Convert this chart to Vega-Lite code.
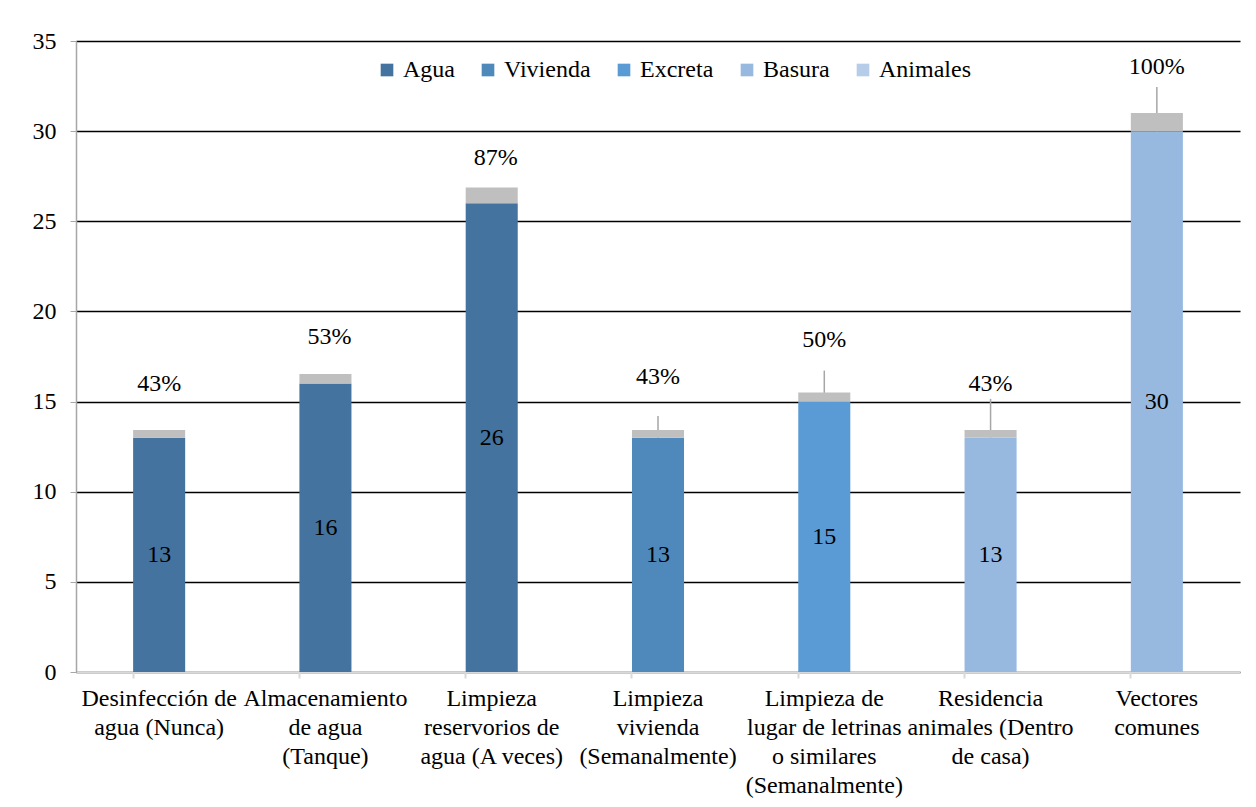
{
  "$schema": "https://vega.github.io/schema/vega-lite/v6.json",
  "width": 1164,
  "height": 631,
  "autosize": {"type": "none"},
  "padding": {"left": 76, "top": 41, "right": 16, "bottom": 135},
  "background": "white",
  "config": {
    "font": "Liberation Serif",
    "view": {"stroke": null},
    "axis": {"labelFont": "Liberation Serif", "labelColor": "#000000", "labelFontSize": 24, "title": null}
  },
  "data": {
    "values": [
      {"categoria": "Desinfección de|agua (Nunca)", "grupo": "Agua", "valor": 13},
      {"categoria": "Desinfección de|agua (Nunca)", "grupo": "Porcentaje", "valor": 0.43, "etiqueta": "43%"},
      {"categoria": "Almacenamiento|de agua|(Tanque)", "grupo": "Agua", "valor": 16},
      {"categoria": "Almacenamiento|de agua|(Tanque)", "grupo": "Porcentaje", "valor": 0.53, "etiqueta": "53%"},
      {"categoria": "Limpieza|reservorios de|agua (A veces)", "grupo": "Agua", "valor": 26},
      {"categoria": "Limpieza|reservorios de|agua (A veces)", "grupo": "Porcentaje", "valor": 0.87, "etiqueta": "87%"},
      {"categoria": "Limpieza|vivienda|(Semanalmente)", "grupo": "Vivienda", "valor": 13},
      {"categoria": "Limpieza|vivienda|(Semanalmente)", "grupo": "Porcentaje", "valor": 0.43, "etiqueta": "43%"},
      {"categoria": "Limpieza de|lugar de letrinas|o similares|(Semanalmente)", "grupo": "Excreta", "valor": 15},
      {"categoria": "Limpieza de|lugar de letrinas|o similares|(Semanalmente)", "grupo": "Porcentaje", "valor": 0.5, "etiqueta": "50%"},
      {"categoria": "Residencia|animales (Dentro|de casa)", "grupo": "Basura", "valor": 13},
      {"categoria": "Residencia|animales (Dentro|de casa)", "grupo": "Porcentaje", "valor": 0.43, "etiqueta": "43%"},
      {"categoria": "Vectores|comunes", "grupo": "Basura", "valor": 30},
      {"categoria": "Vectores|comunes", "grupo": "Porcentaje", "valor": 1.0, "etiqueta": "100%"}
    ]
  },
  "encoding": {
    "x": {
      "field": "categoria",
      "type": "nominal",
      "sort": null,
      "scale": {"paddingInner": 0.687, "paddingOuter": 0.3435},
      "axis": {
        "labelAngle": 0,
        "labelExpr": "split(datum.label, '|')",
        "labelLineHeight": 29,
        "labelPadding": 8,
        "labelBaseline": "top",
        "labelFont": "Liberation Serif",
        "labelFontSize": 24,
        "labelColor": "#000000",
        "bandPosition": 0,
        "tickSize": 6,
        "tickColor": "#D9D9D9",
        "tickWidth": 2,
        "domainColor": "#D9D9D9",
        "domainWidth": 2,
        "grid": false,
        "labelLimit": 0
      }
    }
  },
  "layer": [
    {
      "layer": [
        {
          "mark": {"type": "rule", "strokeWidth": 1.5, "yOffset": -14, "y2": 0, "y2Offset": 0, "color": "#A6A6A6"},
          "encoding": {
            "y": {"field": "valor", "type": "quantitative", "stack": "zero"},
            "detail": {"field": "grupo"},
            "order": {"field": "valor", "type": "quantitative", "sort": "descending"},
            "opacity": {"condition": {"test": "datum.grupo === 'Porcentaje' && datum.categoria === 'Limpieza|vivienda|(Semanalmente)'", "value": 1}, "value": 0}
          }
        },
        {
          "mark": {"type": "rule", "strokeWidth": 1.5, "yOffset": -22, "y2": 0, "y2Offset": 0, "color": "#A6A6A6"},
          "encoding": {
            "y": {"field": "valor", "type": "quantitative", "stack": "zero"},
            "detail": {"field": "grupo"},
            "order": {"field": "valor", "type": "quantitative", "sort": "descending"},
            "opacity": {"condition": {"test": "datum.grupo === 'Porcentaje' && datum.categoria === 'Limpieza de|lugar de letrinas|o similares|(Semanalmente)'", "value": 1}, "value": 0}
          }
        },
        {
          "mark": {"type": "rule", "strokeWidth": 1.5, "yOffset": -31, "y2": 0, "y2Offset": 0, "color": "#A6A6A6"},
          "encoding": {
            "y": {"field": "valor", "type": "quantitative", "stack": "zero"},
            "detail": {"field": "grupo"},
            "order": {"field": "valor", "type": "quantitative", "sort": "descending"},
            "opacity": {"condition": {"test": "datum.grupo === 'Porcentaje' && datum.categoria === 'Residencia|animales (Dentro|de casa)'", "value": 1}, "value": 0}
          }
        },
        {
          "mark": {"type": "rule", "strokeWidth": 1.5, "yOffset": -26, "y2": 0, "y2Offset": 0, "color": "#A6A6A6"},
          "encoding": {
            "y": {"field": "valor", "type": "quantitative", "stack": "zero"},
            "detail": {"field": "grupo"},
            "order": {"field": "valor", "type": "quantitative", "sort": "descending"},
            "opacity": {"condition": {"test": "datum.grupo === 'Porcentaje' && datum.categoria === 'Vectores|comunes'", "value": 1}, "value": 0}
          }
        },
        {
          "mark": {"type": "bar"},
          "encoding": {
            "y": {
              "field": "valor",
              "type": "quantitative",
              "stack": "zero",
              "scale": {"domain": [0, 35], "nice": false},
              "axis": {
                "values": [0, 5, 10, 15, 20, 25, 30, 35],
                "grid": true,
                "gridColor": "#000000",
                "gridWidth": 1.5,
                "domainColor": "#A6A6A6",
                "domainWidth": 1.5,
                "tickColor": "#A6A6A6",
                "tickSize": 6,
                "labelPadding": 14,
                "labelFont": "Liberation Serif",
                "labelFontSize": 24,
                "labelColor": "#000000"
              }
            },
            "color": {
              "field": "grupo",
              "type": "nominal",
              "scale": {
                "domain": ["Agua", "Vivienda", "Excreta", "Basura", "Animales", "Porcentaje"],
                "range": ["#44739F", "#4F89BC", "#5B9BD5", "#97B9E0", "#B6CDE9", "#BFBFBF"]
              },
              "legend": {
                "values": ["Agua", "Vivienda", "Excreta", "Basura", "Animales"],
                "title": null,
                "orient": "none",
                "legendX": 299,
                "legendY": 17,
                "direction": "horizontal",
                "symbolType": "square",
                "symbolSize": 160,
                "symbolStrokeWidth": 0,
                "labelFont": "Liberation Serif",
                "labelFontSize": 24,
                "labelColor": "#000000",
                "labelOffset": 4,
                "columnPadding": 21,
                "padding": 0
              }
            },
            "order": {"field": "valor", "type": "quantitative", "sort": "descending"}
          }
        },
        {
          "mark": {"type": "text", "dy": -30, "fontSize": 24, "font": "Liberation Serif", "color": "#000000", "baseline": "middle", "dx": 4},
          "encoding": {
            "y": {"field": "valor", "type": "quantitative", "stack": "zero"},
            "detail": {"field": "grupo"},
            "order": {"field": "valor", "type": "quantitative", "sort": "descending"},
            "text": {"field": "etiqueta"},
            "opacity": {"condition": {"test": "datum.grupo === 'Porcentaje' && datum.categoria === 'Limpieza|reservorios de|agua (A veces)'", "value": 1}, "value": 0}
          }
        },
        {
          "mark": {"type": "text", "dy": -37, "fontSize": 24, "font": "Liberation Serif", "color": "#000000", "baseline": "middle", "dx": 4},
          "encoding": {
            "y": {"field": "valor", "type": "quantitative", "stack": "zero"},
            "detail": {"field": "grupo"},
            "order": {"field": "valor", "type": "quantitative", "sort": "descending"},
            "text": {"field": "etiqueta"},
            "opacity": {"condition": {"test": "datum.grupo === 'Porcentaje' && datum.categoria === 'Almacenamiento|de agua|(Tanque)'", "value": 1}, "value": 0}
          }
        },
        {
          "mark": {"type": "text", "dy": -46, "fontSize": 24, "font": "Liberation Serif", "color": "#000000", "baseline": "middle"},
          "encoding": {
            "y": {"field": "valor", "type": "quantitative", "stack": "zero"},
            "detail": {"field": "grupo"},
            "order": {"field": "valor", "type": "quantitative", "sort": "descending"},
            "text": {"field": "etiqueta"},
            "opacity": {"condition": {"test": "datum.grupo === 'Porcentaje' && indexof(['Desinfección de|agua (Nunca)', 'Residencia|animales (Dentro|de casa)', 'Vectores|comunes'], datum.categoria) >= 0", "value": 1}, "value": 0}
          }
        },
        {
          "mark": {"type": "text", "dy": -53, "fontSize": 24, "font": "Liberation Serif", "color": "#000000", "baseline": "middle"},
          "encoding": {
            "y": {"field": "valor", "type": "quantitative", "stack": "zero"},
            "detail": {"field": "grupo"},
            "order": {"field": "valor", "type": "quantitative", "sort": "descending"},
            "text": {"field": "etiqueta"},
            "opacity": {"condition": {"test": "datum.grupo === 'Porcentaje' && indexof(['Limpieza|vivienda|(Semanalmente)', 'Limpieza de|lugar de letrinas|o similares|(Semanalmente)'], datum.categoria) >= 0", "value": 1}, "value": 0}
          }
        }
      ]
    },
    {
      "transform": [{"filter": "datum.grupo !== 'Porcentaje'"}],
      "mark": {"type": "text", "fontSize": 24, "font": "Liberation Serif", "color": "#000000", "baseline": "middle"},
      "encoding": {
        "y": {"field": "valor", "type": "quantitative", "stack": null, "scale": {"domain": [0, 70], "nice": false}, "axis": null},
        "text": {"field": "valor", "type": "quantitative"}
      }
    }
  ],
  "resolve": {"scale": {"y": "independent"}}
}
